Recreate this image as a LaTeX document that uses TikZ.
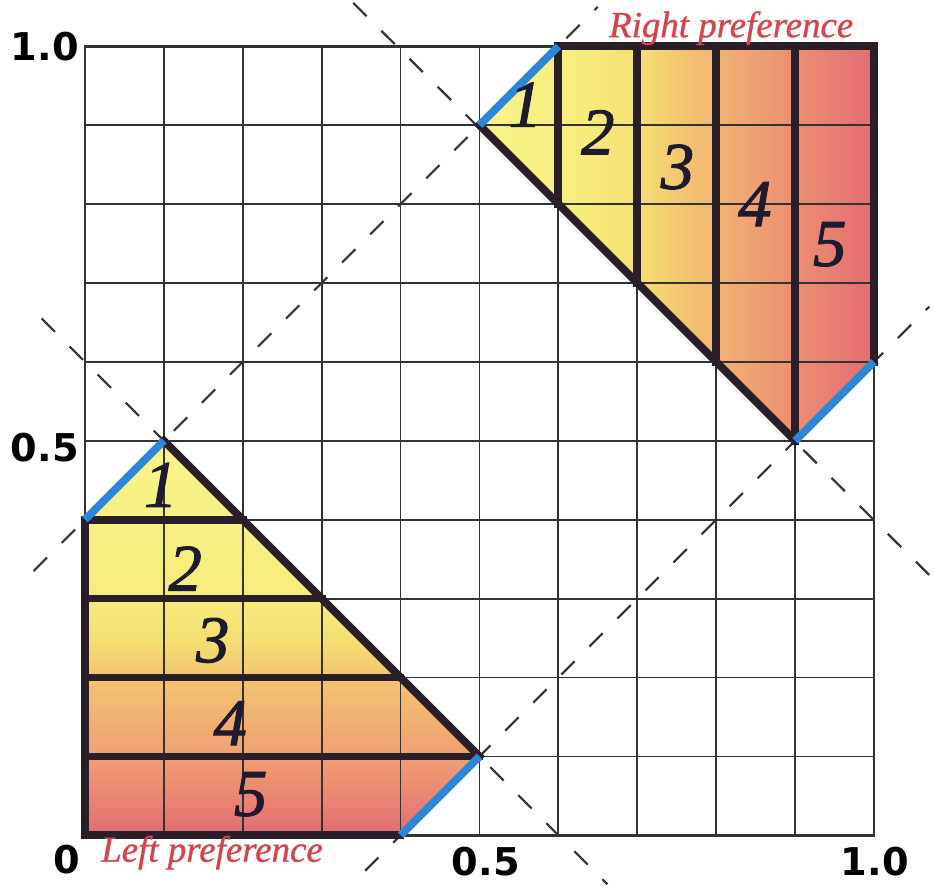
\documentclass[tikz,border=0pt]{standalone}
\usepackage{fontspec}
\setmainfont{Liberation Serif}
\newfontfamily\axisfont{DejaVu Sans}
\newfontfamily\numfont{Liberation Serif}[ItalicFeatures={FakeBold=1.6}]
\newfontfamily\preffont{Liberation Serif}[ItalicFeatures={FakeBold=0.8}]
\definecolor{cA}{HTML}{F8F48A}
\definecolor{cB}{HTML}{F6EC7C}
\definecolor{cC}{HTML}{F5E072}
\definecolor{cD}{HTML}{F3C470}
\definecolor{cE}{HTML}{EFA072}
\definecolor{cF}{HTML}{E46C72}
\definecolor{outl}{HTML}{2A1E28}
\definecolor{bluel}{HTML}{2A88D8}
\definecolor{gridc}{HTML}{333333}
\definecolor{numc}{HTML}{1E1A30}
\definecolor{redt}{HTML}{D8434A}
\pgfdeclareverticalshading{leftshade}{100bp}{color(0bp)=(cF); color(25bp)=(cF); color(35bp)=(cE); color(45bp)=(cD); color(50bp)=(cC); color(55bp)=(cB); color(75bp)=(cA); color(100bp)=(cA)}
\pgfdeclarehorizontalshading{rightshade}{100bp}{color(0bp)=(cA); color(25bp)=(cA); color(38bp)=(cB); color(45bp)=(cC); color(51bp)=(cD); color(60bp)=(cE); color(75bp)=(cF); color(100bp)=(cF)}
\tikzset{
  gridline/.style={draw=gridc, line width=0.65pt},
  guide/.style={draw=gridc, line width=0.8pt, dash pattern=on 6.8pt off 7.5pt},
  edge/.style={draw=outl, line width=2.8pt, line cap=rect, line join=miter},
  blueedge/.style={draw=bluel, line width=2.8pt, line cap=butt},
  num/.style={text=numc, font=\numfont\fontsize{24}{24}\selectfont\itshape, inner sep=0pt},
  axlab/.style={text=black, font=\axisfont\bfseries\fontsize{13.8}{13.8}\selectfont, inner sep=0pt},
  pref/.style={text=redt, font=\preffont\fontsize{13.3}{13.3}\selectfont\itshape, inner sep=0pt}
}
\begin{document}
\begin{tikzpicture}
\useasboundingbox[fill=white] (-1.077,-0.63) rectangle (10.748,10.587);
% shaded regions
\path[shading=leftshade] (0,0) -- (0,4) -- (1,5) -- (5,1) -- (4,0) -- cycle;
\path[shading=rightshade] (5,9) -- (6,10) -- (10,10) -- (10,6) -- (9,5) -- cycle;
% grid
\draw[gridline] (0,0) grid (10,10);
\draw[gridc, line width=0.9pt] (0,0) rectangle (10,10);
% dashed guide lines
\draw[guide] (-0.65,3.35) -- (6.5,10.5);
\draw[guide] (3.55,-0.45) -- (10.7,6.7);
\draw[guide] (-0.55,6.55) -- (6.62,-0.62);
\draw[guide] (3.4,10.55) -- (10.7,3.3);
% left shape outlines
\draw[edge] (0,4) -- (0,0) -- (4,0);
\draw[edge] (1,5) -- (5,1);
\draw[edge] (0,4) -- (2,4);
\draw[edge] (0,3) -- (3,3);
\draw[edge] (0,2) -- (4,2);
\draw[edge] (0,1) -- (5,1);
\draw[blueedge] (0,4) -- (1,5);
\draw[blueedge] (4,0) -- (5,1);
% right shape outlines
\draw[edge] (6,10) -- (10,10) -- (10,6);
\draw[edge] (5,9) -- (9,5);
\draw[edge] (6,10) -- (6,8);
\draw[edge] (7,10) -- (7,7);
\draw[edge] (8,10) -- (8,6);
\draw[edge] (9,10) -- (9,5);
\draw[blueedge] (5,9) -- (6,10);
\draw[blueedge] (9,5) -- (10,6);
% region numbers
\node[num] (l1) at (0.96,4.44) {1};
\node[num] (l2) at (1.27,3.38) {2};
\node[num] (l3) at (1.62,2.47) {3};
\node[num] (l4) at (1.84,1.42) {4};
\node[num] (l5) at (2.10,0.52) {5};
\node[num] (r1) at (5.58,9.26) {1};
\node[num] (r2) at (6.50,8.91) {2};
\node[num] (r3) at (7.51,8.47) {3};
\node[num] (r4) at (8.49,8.00) {4};
\node[num] (r5) at (9.44,7.49) {5};
% axis labels
\node[axlab] (y10) at (-0.51,10.0) {1.0};
\node[axlab] (y05) at (-0.51,4.91) {0.5};
\node[axlab] (x0) at (-0.23,-0.31) {0};
\node[axlab] (x05) at (5.08,-0.33) {0.5};
\node[axlab] (x10) at (10.01,-0.33) {1.0};
% preference labels
\node[pref] (lp) at (1.61,-0.22) {Left preference};
\node[pref] (rp) at (8.19,10.23) {Right preference};
\end{tikzpicture}
\end{document}
